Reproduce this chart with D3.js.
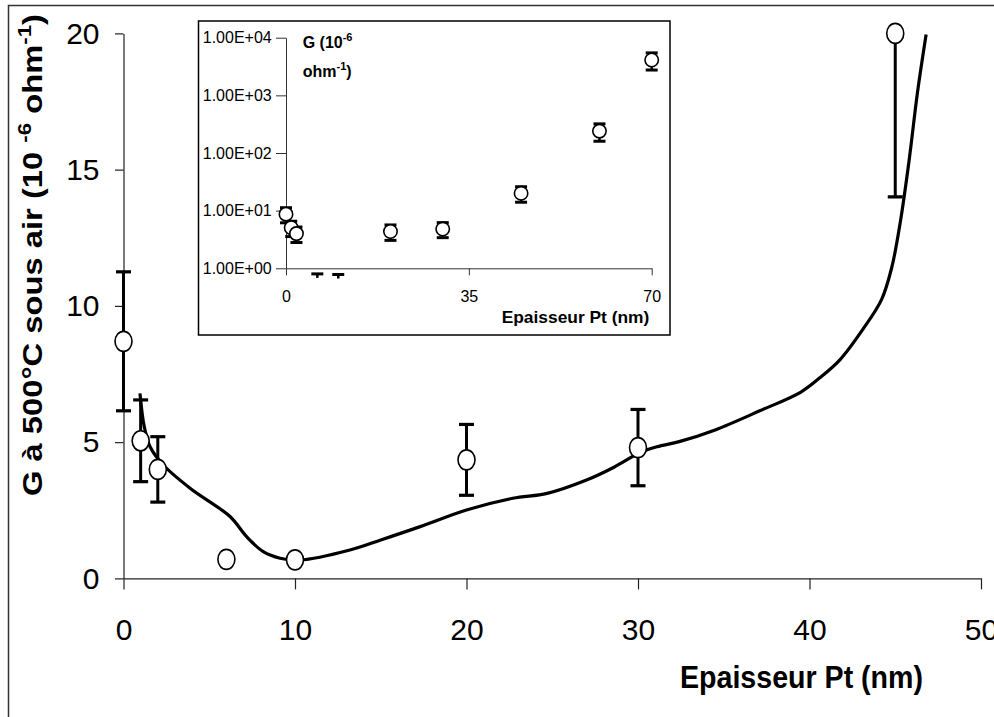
<!DOCTYPE html>
<html>
<head>
<meta charset="utf-8">
<script src="https://cdn.jsdelivr.net/npm/d3@7"></script>
<style>
  html, body { margin: 0; padding: 0; background: #fff; }
  svg { display: block; }
  text { font-family: "Liberation Sans", Arial, sans-serif; fill: #000; }
</style>
</head>
<body>
<svg id="chart" width="994" height="717"></svg>
<script>
// ---------------- DATA ----------------
const thickness = [0, 1, 2, 6, 10, 20, 30, 45, 60, 70];          // nm
const conductance = [8.7, 5.05, 4.0, 0.7, 0.68, 4.35, 4.8, 20.0, 240, 4100]; // 10^-6 ohm^-1
const errorBar = [2.55, 1.5, 1.2, 0.1, 0.1, 1.3, 1.4, 6, 80, 1350];

// fitted trend curve (main chart)
const curveX = [0.96, 1.21, 1.55, 2.32, 3.88, 6.21, 7.18, 8.15, 9.13, 10.3, 13.2, 15.0, 17.3, 20.0, 22.7, 24.7, 27.0, 28.6, 30.1, 31.1, 32.4, 34.5, 37.1, 39.5, 40.6, 41.8, 43.1, 44.2, 44.8, 45.3, 45.8, 46.3, 46.8];
const curveY = [6.79, 5.57, 4.83, 4.16, 3.31, 2.27, 1.53, 0.98, 0.74, 0.67, 1.04, 1.41, 1.90, 2.51, 2.94, 3.12, 3.61, 4.08, 4.61, 4.83, 5.02, 5.45, 6.15, 6.84, 7.36, 8.04, 9.13, 10.23, 11.42, 13.1, 15.3, 17.85, 19.96];

const mainXTicks = [0, 10, 20, 30, 40, 50];
const mainYTicks = [0, 5, 10, 15, 20];
const insetXTicks = [0, 35, 70];
const insetYTicks = [1, 10, 100, 1000, 10000];
const insetYTickLabels = ["1.00E+00", "1.00E+01", "1.00E+02", "1.00E+03", "1.00E+04"];

const xTitle = "Epaisseur Pt (nm)";

// ---------------- DRAW ----------------
const svg = d3.select("#chart");
const FONT = '"Liberation Sans", Arial, sans-serif';

// outer frame
svg.append("rect").attr("x", 8.5).attr("y", 5.5).attr("width", 1000).attr("height", 720)
  .attr("fill", "none").attr("stroke", "#333").attr("stroke-width", 1.5);

// main scales
const x = d3.scaleLinear().domain([0, 50]).range([123.5, 981]);
const y = d3.scaleLinear().domain([0, 20]).range([578.4, 33.4]);

// axes
const yAxis = svg.append("g").attr("transform", `translate(${x(0)},0)`)
  .call(d3.axisLeft(y).tickValues(mainYTicks).tickSize(8.5).tickSizeOuter(0).tickPadding(15.5));
const xAxis = svg.append("g").attr("transform", `translate(0,${y(0)})`)
  .call(d3.axisBottom(x).tickValues(mainXTicks).tickSize(11).tickSizeOuter(0).tickPadding(29));
[xAxis, yAxis].forEach(g => {
  g.select(".domain").attr("stroke", "#222").attr("stroke-width", 1.2);
  g.selectAll(".tick line").attr("stroke", "#222").attr("stroke-width", 1.2);
  g.selectAll(".tick text").attr("font-size", 30).attr("font-family", FONT).attr("fill", "#000");
});

// clip for main error bars
svg.append("clipPath").attr("id", "mainClip").append("rect")
  .attr("x", 100).attr("y", y(20)).attr("width", 900).attr("height", y(0) - y(20) + 20);

const mainData = thickness.map((t, i) => ({ t, g: conductance[i], e: errorBar[i] })).filter(d => d.t <= 50);

// error bars main
const eb = svg.append("g").attr("clip-path", "url(#mainClip)").attr("stroke", "#000");
mainData.forEach(d => {
  const cx = x(d.t);
  eb.append("line").attr("x1", cx).attr("x2", cx).attr("y1", y(d.g + d.e)).attr("y2", y(d.g - d.e))
    .attr("stroke-width", 3);
  [d.g + d.e, d.g - d.e].forEach(v => {
    eb.append("line").attr("x1", cx - 7.5).attr("x2", cx + 7.5).attr("y1", y(v)).attr("y2", y(v))
      .attr("stroke-width", 3.2);
  });
});

// trend curve
const line = d3.line().x(d => x(d[0])).y(d => y(d[1])).curve(d3.curveCatmullRom.alpha(0.5));
svg.append("path").datum(curveX.map((cx, i) => [cx, curveY[i]]))
  .attr("d", line).attr("fill", "none").attr("stroke", "#000").attr("stroke-width", 3.2)
  .attr("stroke-linejoin", "round");

// markers main
svg.append("g").selectAll("ellipse").data(mainData).join("ellipse")
  .attr("cx", d => x(d.t)).attr("cy", d => y(d.g)).attr("rx", 8.5).attr("ry", 10)
  .attr("fill", "#fff").attr("stroke", "#000").attr("stroke-width", 1.6);

// axis titles
svg.append("text").attr("x", 801.5).attr("y", 688).attr("text-anchor", "middle")
  .attr("font-size", 31).attr("font-weight", "bold")
  .attr("textLength", 243).attr("lengthAdjust", "spacingAndGlyphs").text(xTitle);

const yt = svg.append("text").attr("transform", "translate(42,255) rotate(-90)")
  .attr("text-anchor", "middle").attr("font-size", 28).attr("font-weight", "bold")
  .attr("textLength", 482).attr("lengthAdjust", "spacingAndGlyphs");
yt.append("tspan").text("G à 500°C sous air (10 ");
yt.append("tspan").attr("font-size", 19).attr("dy", -11).text("-6");
yt.append("tspan").attr("dy", 11).text(" ohm");
yt.append("tspan").attr("font-size", 19).attr("dy", -11).text("-1");
yt.append("tspan").attr("dy", 11).text(")");

// ---------------- INSET ----------------
const inset = svg.append("g");
inset.append("rect").attr("x", 198.5).attr("y", 21).attr("width", 471.5).attr("height", 314)
  .attr("fill", "#fff").attr("stroke", "#000").attr("stroke-width", 1.5);

const xi = d3.scaleLinear().domain([0, 70]).range([286, 651.7]);
const yi = d3.scaleLog().domain([1, 1e4]).range([268.3, 37.7]);

const yiAxis = inset.append("g").attr("transform", `translate(${xi(0)},0)`)
  .call(d3.axisLeft(yi).tickValues(insetYTicks).tickFormat((d, i) => insetYTickLabels[i])
    .tickSize(10).tickSizeOuter(0).tickPadding(4.3));
const xiAxis = inset.append("g").attr("transform", `translate(0,${yi(1)})`)
  .call(d3.axisBottom(xi).tickValues(insetXTicks).tickSize(7).tickSizeOuter(0).tickPadding(15.8));
[xiAxis, yiAxis].forEach(g => {
  g.select(".domain").attr("stroke", "#333").attr("stroke-width", 1);
  g.selectAll(".tick line").attr("stroke", "#333").attr("stroke-width", 1);
  g.selectAll(".tick text").attr("font-size", 16).attr("font-family", FONT).attr("fill", "#000");
});

const insetData = thickness.map((t, i) => ({ t, g: conductance[i], e: errorBar[i] }));
const ebi = inset.append("g").attr("stroke", "#000");
insetData.forEach(d => {
  const cx = xi(d.t);
  const top = yi(d.g + d.e), bot = yi(Math.max(d.g - d.e, 0.05));
  const visTop = d.g < 1 ? top : top;
  const visBot = d.g < 1 ? Math.min(bot, top + 4) : bot;
  ebi.append("line").attr("x1", cx).attr("x2", cx).attr("y1", visTop).attr("y2", visBot).attr("stroke-width", 2.5);
  ebi.append("line").attr("x1", cx - 6).attr("x2", cx + 6).attr("y1", top).attr("y2", top).attr("stroke-width", 3);
  if (d.g >= 1) {
    ebi.append("line").attr("x1", cx - 6).attr("x2", cx + 6).attr("y1", bot).attr("y2", bot).attr("stroke-width", 3);
  }
});
inset.append("g").selectAll("circle").data(insetData.filter(d => d.g >= 1)).join("circle")
  .attr("cx", d => xi(d.t)).attr("cy", d => yi(d.g)).attr("r", 6.7)
  .attr("fill", "#fff").attr("stroke", "#000").attr("stroke-width", 1.6);

inset.append("text").attr("x", 649.3).attr("y", 323).attr("text-anchor", "end")
  .attr("font-size", 17).attr("font-weight", "bold")
  .attr("textLength", 147.6).attr("lengthAdjust", "spacingAndGlyphs").text(xTitle);

const it1 = inset.append("text").attr("x", 302.7).attr("y", 48.3).attr("font-size", 16).attr("font-weight", "bold");
it1.append("tspan").text("G (10");
it1.append("tspan").attr("font-size", 11).attr("dy", -7).text("-6");
const it2 = inset.append("text").attr("x", 302.7).attr("y", 76.7).attr("font-size", 16).attr("font-weight", "bold");
it2.append("tspan").text("ohm");
it2.append("tspan").attr("font-size", 11).attr("dy", -7).text("-1");
it2.append("tspan").attr("dy", 7).text(")");
</script>
</body>
</html>
